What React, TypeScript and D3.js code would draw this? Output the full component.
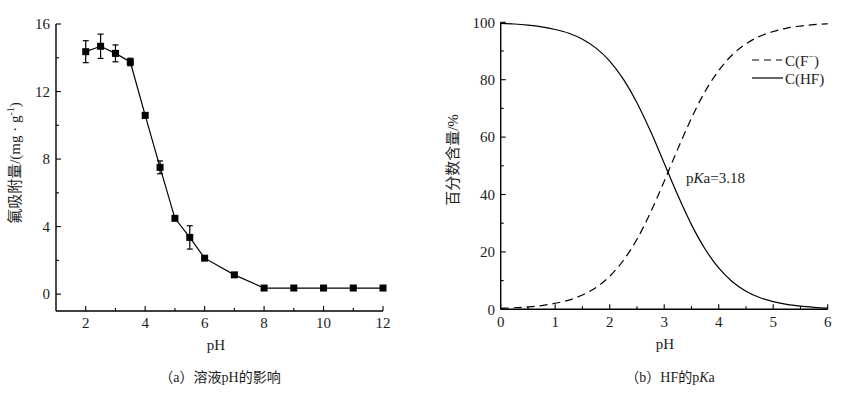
import React from "react";
import * as d3 from "d3";

// ---------- Data: panel (a) ----------
const phA = [2, 2.5, 3, 3.5, 4, 4.5, 5, 5.5, 6, 7, 8, 9, 10, 11, 12];
const adsorption = [14.36, 14.68, 14.26, 13.75, 10.59, 7.51, 4.49, 3.36, 2.13, 1.14, 0.36, 0.36, 0.36, 0.36, 0.36];
const adsorptionErr = [0.65, 0.72, 0.5, 0.22, 0.15, 0.38, 0, 0.69, 0, 0, 0, 0, 0, 0, 0];
const xTicksA = [2, 4, 6, 8, 10, 12];
const xMinorA = [3, 5, 7, 9, 11];
const yTicksA = [0, 4, 8, 12, 16];
const yMinorA = [2, 6, 10, 14];

// ---------- Data: panel (b) ----------
const phB = [0, 0.25, 0.5, 0.75, 1, 1.25, 1.5, 1.75, 2, 2.25, 2.5, 2.75, 3, 3.25, 3.5, 3.75, 4, 4.25, 4.5, 4.75, 5, 5.25, 5.5, 5.75, 6];
const cHF = [99.6, 99.4, 99.0, 98.4, 97.5, 96.2, 94.1, 91.0, 86.5, 80.2, 72.0, 62.0, 50.9, 39.7, 29.5, 21.0, 14.4, 9.6, 6.3, 4.1, 2.7, 1.7, 1.1, 0.7, 0.4];
const cF = [0.34, 0.54, 0.84, 1.3, 2.1, 3.2, 5.0, 7.6, 11.5, 17.0, 24.4, 33.8, 44.6, 55.9, 66.6, 75.9, 83.2, 88.7, 92.5, 95.1, 96.8, 98.0, 98.7, 99.2, 99.5];
const xTicksB = [0, 1, 2, 3, 4, 5, 6];
const xMinorB = [0.5, 1.5, 2.5, 3.5, 4.5, 5.5];
const yTicksB = [0, 20, 40, 60, 80, 100];
const yMinorB = [10, 30, 50, 70, 90];

const FONT = "'Liberation Serif', 'Times New Roman', 'Noto Sans CJK SC', serif";
const CJK = "'Liberation Serif', 'Noto Sans CJK SC', serif";
const TXT = "#1c1c1c";

export default function App() {
  // panel (a) scales
  const xa = d3.scaleLinear().domain([1, 12]).range([56, 383]);
  const ya = d3.scaleLinear().domain([-1, 16]).range([311, 24]);
  // panel (b) scales
  const xb = d3.scaleLinear().domain([0, 6]).range([500.7, 827.7]);
  const yb = d3.scaleLinear().domain([0, 100]).range([309.3, 22.3]);

  const lineA = d3
    .line<number>()
    .x((_, i) => xa(phA[i]))
    .y((d) => ya(d));
  const lineHF = d3
    .line<number>()
    .x((_, i) => xb(phB[i]))
    .y((d) => yb(d))
    .curve(d3.curveMonotoneX);
  const lineF = d3
    .line<number>()
    .x((_, i) => xb(phB[i]))
    .y((d) => yb(d))
    .curve(d3.curveMonotoneX);

  const axisStroke = 1.4;
  const ms = 7;

  return (
    <svg
      width={845}
      height={394}
      style={{ position: "absolute", left: 0, top: 0, background: "#fff" }}
      fontFamily={FONT}
    >
      <rect x={0} y={0} width={845} height={394} fill="#fff" />

      {/* ===== Panel (a) ===== */}
      <g>
        {/* axes */}
        <line x1={xa(1)} x2={xa(12)} y1={ya(-1)} y2={ya(-1)} stroke="#000" strokeWidth={axisStroke} />
        <line x1={xa(1)} x2={xa(1)} y1={ya(-1)} y2={ya(16)} stroke="#000" strokeWidth={axisStroke} />
        {xTicksA.map((t) => (
          <g key={"xa" + t}>
            <line x1={xa(t)} x2={xa(t)} y1={ya(-1)} y2={ya(-1) - 5} stroke="#000" strokeWidth={1.1} />
            <text x={xa(t)} y={328} textAnchor="middle" fontSize={15} fill={TXT}>
              {t}
            </text>
          </g>
        ))}
        {xMinorA.map((t) => (
          <line key={"xam" + t} x1={xa(t)} x2={xa(t)} y1={ya(-1)} y2={ya(-1) - 3} stroke="#000" strokeWidth={1.1} />
        ))}
        {yTicksA.map((t) => (
          <g key={"ya" + t}>
            <line x1={xa(1)} x2={xa(1) + 5} y1={ya(t)} y2={ya(t)} stroke="#000" strokeWidth={1.1} />
            <text x={50} y={ya(t)} dy="0.35em" textAnchor="end" fontSize={15} fill={TXT}>
              {t}
            </text>
          </g>
        ))}
        {yMinorA.map((t) => (
          <line key={"yam" + t} x1={xa(1)} x2={xa(1) + 3} y1={ya(t)} y2={ya(t)} stroke="#000" strokeWidth={1.1} />
        ))}

        {/* line */}
        <path d={lineA(adsorption) || ""} fill="none" stroke="#000" strokeWidth={1.2} />
        {/* error bars */}
        {adsorption.map((v, i) =>
          adsorptionErr[i] > 0 ? (
            <g key={"eb" + i} stroke="#000" strokeWidth={1.2}>
              <line x1={xa(phA[i])} x2={xa(phA[i])} y1={ya(v - adsorptionErr[i])} y2={ya(v + adsorptionErr[i])} />
              <line x1={xa(phA[i]) - 3} x2={xa(phA[i]) + 3} y1={ya(v + adsorptionErr[i])} y2={ya(v + adsorptionErr[i])} />
              <line x1={xa(phA[i]) - 3} x2={xa(phA[i]) + 3} y1={ya(v - adsorptionErr[i])} y2={ya(v - adsorptionErr[i])} />
            </g>
          ) : null
        )}
        {/* markers */}
        {adsorption.map((v, i) => (
          <rect key={"m" + i} x={xa(phA[i]) - ms / 2} y={ya(v) - ms / 2} width={ms} height={ms} fill="#000" />
        ))}

        {/* titles */}
        <text x={216} y={350} textAnchor="middle" fontSize={15} fill={TXT}>
          pH
        </text>
        <text
          transform={`translate(20,163) rotate(-90)`}
          textAnchor="middle"
          fontSize={15}
          fill={TXT}
          fontFamily={CJK}
        >
          氟吸附量/(mg · g
          <tspan fontSize={10} dy={-6}>
            -1
          </tspan>
          <tspan dy={6}>)</tspan>
        </text>
        <text x={220} y={382} textAnchor="middle" fontSize={14} fill={TXT} fontFamily={CJK}>
          （a）溶液pH的影响
        </text>
      </g>

      {/* ===== Panel (b) ===== */}
      <g>
        <line x1={xb(0)} x2={xb(6)} y1={yb(0)} y2={yb(0)} stroke="#000" strokeWidth={axisStroke} />
        <line x1={xb(0)} x2={xb(0)} y1={yb(0)} y2={yb(100)} stroke="#000" strokeWidth={axisStroke} />
        {xTicksB.map((t) => (
          <g key={"xb" + t}>
            <line x1={xb(t)} x2={xb(t)} y1={yb(0)} y2={yb(0) - 5} stroke="#000" strokeWidth={1.1} />
            <text x={xb(t)} y={327} textAnchor="middle" fontSize={15} fill={TXT}>
              {t}
            </text>
          </g>
        ))}
        {xMinorB.map((t) => (
          <line key={"xbm" + t} x1={xb(t)} x2={xb(t)} y1={yb(0)} y2={yb(0) - 3} stroke="#000" strokeWidth={1.1} />
        ))}
        {yTicksB.map((t) => (
          <g key={"yb" + t}>
            <line x1={xb(0)} x2={xb(0) + 5} y1={yb(t)} y2={yb(t)} stroke="#000" strokeWidth={1.1} />
            <text x={495} y={yb(t)} dy="0.35em" textAnchor="end" fontSize={15} fill={TXT}>
              {t}
            </text>
          </g>
        ))}
        {yMinorB.map((t) => (
          <line key={"ybm" + t} x1={xb(0)} x2={xb(0) + 3} y1={yb(t)} y2={yb(t)} stroke="#000" strokeWidth={1.1} />
        ))}

        <path d={lineF(cF) || ""} fill="none" stroke="#000" strokeWidth={1.2} strokeDasharray="8,5" />
        <path d={lineHF(cHF) || ""} fill="none" stroke="#000" strokeWidth={1.2} />

        {/* annotation */}
        <text x={686} y={183} fontSize={15} fill={TXT}>
          p<tspan fontStyle="italic">K</tspan>a=3.18
        </text>

        {/* legend */}
        <line x1={752} x2={782} y1={60} y2={60} stroke="#000" strokeWidth={1.2} strokeDasharray="7,5" />
        <text x={785} y={66} fontSize={15} fill={TXT}>
          C(F
          <tspan fontSize={10} dy={-6}>
            −
          </tspan>
          <tspan dy={6}>)</tspan>
        </text>
        <line x1={752} x2={783} y1={78} y2={78} stroke="#000" strokeWidth={1.2} />
        <text x={785} y={83.5} fontSize={15} fill={TXT}>
          C(HF)
        </text>

        {/* titles */}
        <text x={665} y={349} textAnchor="middle" fontSize={15} fill={TXT}>
          pH
        </text>
        <text
          transform={`translate(458,160) rotate(-90)`}
          textAnchor="middle"
          fontSize={15}
          fill={TXT}
          fontFamily={CJK}
        >
          百分数含量/%
        </text>
        <text x={670} y={382} textAnchor="middle" fontSize={14} fill={TXT} fontFamily={CJK}>
          （b）HF的p<tspan fontStyle="italic">K</tspan>a
        </text>
      </g>
    </svg>
  );
}
